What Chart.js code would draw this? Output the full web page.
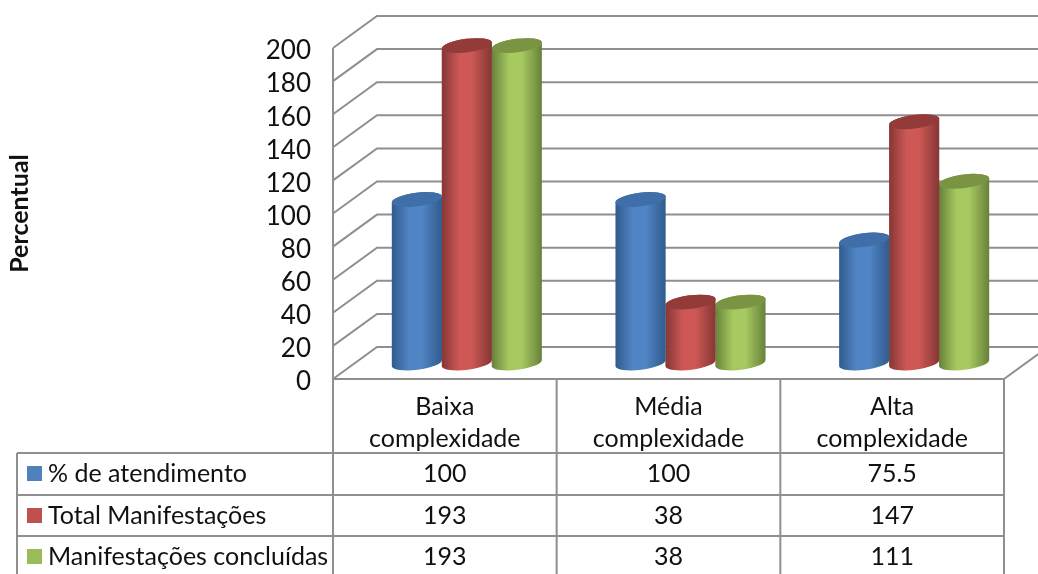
<!DOCTYPE html>
<html>
<head>
<meta charset="utf-8">
<title>Manifestações por complexidade</title>
<script src="https://cdn.jsdelivr.net/npm/chart.js@4/dist/chart.umd.min.js"></script>
<style>
    html, body { margin: 0; padding: 0; background: #fff; overflow: hidden; }
    canvas { display: block; }
</style>
</head>
<body>
<canvas id="chart" width="1038" height="574"></canvas>
<script>
const categories = [["Baixa", "complexidade"], ["Média", "complexidade"], ["Alta", "complexidade"]];
const seriesNames = ["% de atendimento", "Total Manifestações", "Manifestações concluídas"];
const atendimento = [100, 100, 75.5];
const totalManifestacoes = [193, 38, 147];
const concluidas = [193, 38, 111];
const tableLabels = [["100", "100", "75.5"], ["193", "38", "147"], ["193", "38", "111"]];
const yTicks = [0, 20, 40, 60, 80, 100, 120, 140, 160, 180, 200];

const seriesColors = ["#4F81BD", "#C0504D", "#9BBB59"];
// edge, highlight and top cap shades for the cylinders
const bodyShades = [
    { edge: "#305a8c", mid: "#5085c5", cap: "#3f6ea8" },
    { edge: "#843634", mid: "#cd5855", cap: "#923b39" },
    { edge: "#67803a", mid: "#a6c960", cap: "#7a9444" }
];

const FONT = "Lato, Carlito, sans-serif";
const LINE = "#8f8f8f";
const DEPTH_X = 44;
const DEPTH_Y = 32;
const RY = 6.8;
const TILT = -0.125;
const ROW_TOPS = [453, 495, 536];
const ROW_H = 41;

function cylinder(ctx, bar, shade) {
    const rx = bar.width / 2 + 0.3;
    const cx = bar.x + DEPTH_X / 2;
    const top = bar.y - DEPTH_Y / 2 + 2;
    const bottom = bar.base - DEPTH_Y / 2;

    const grad = ctx.createLinearGradient(cx - rx, 0, cx + rx, 0);
    grad.addColorStop(0, shade.edge);
    grad.addColorStop(0.35, shade.mid);
    grad.addColorStop(0.6, shade.mid);
    grad.addColorStop(1, shade.edge);

    ctx.beginPath();
    ctx.ellipse(cx, bottom, rx, RY, TILT, 0, Math.PI);
    ctx.ellipse(cx, top, rx, RY, TILT, Math.PI, 0);
    ctx.closePath();
    ctx.fillStyle = grad;
    ctx.fill();

    ctx.beginPath();
    ctx.ellipse(cx, top, rx, RY, TILT, 0, Math.PI * 2);
    ctx.fillStyle = shade.cap;
    ctx.fill();
}

const cylinderWalls = {
    id: "cylinderWalls",
    beforeDatasetsDraw(chart) {
        const { ctx, scales: { x, y } } = chart;
        ctx.save();
        ctx.strokeStyle = LINE;
        ctx.lineWidth = 2;
        ctx.beginPath();
        yTicks.forEach(v => {
            const py = y.getPixelForValue(v);
            ctx.moveTo(x.left, py);
            ctx.lineTo(x.left + DEPTH_X, py - DEPTH_Y);
            ctx.lineTo(chart.width, py - DEPTH_Y);
        });
        // floor edge on the right
        ctx.moveTo(x.right, y.bottom);
        ctx.lineTo(x.right + DEPTH_X, y.bottom - DEPTH_Y);
        ctx.stroke();
        ctx.restore();
    },
    beforeDatasetDraw(chart, args) {
        const { ctx } = chart;
        ctx.save();
        args.meta.data.forEach(bar => cylinder(ctx, bar, bodyShades[args.index]));
        ctx.restore();
        return false;
    },
    afterDraw(chart) {
        const { ctx, scales: { x, y } } = chart;
        const cellW = x.width / categories.length;
        ctx.save();
        ctx.strokeStyle = LINE;
        ctx.lineWidth = 2;
        ctx.beginPath();

        // front wall and table rules
        ctx.moveTo(x.left, y.top);
        ctx.lineTo(x.left, chart.height);
        for (let i = 1; i <= categories.length; i++) {
            ctx.moveTo(x.left + cellW * i, y.bottom);
            ctx.lineTo(x.left + cellW * i, chart.height);
        }
        ctx.moveTo(x.left, y.bottom);
        ctx.lineTo(x.right, y.bottom);
        ROW_TOPS.forEach(t => {
            ctx.moveTo(17, t);
            ctx.lineTo(x.right, t);
        });
        ctx.moveTo(17, ROW_TOPS[0]);
        ctx.lineTo(17, chart.height);
        ctx.stroke();

        ctx.font = "25px " + FONT;
        ctx.textBaseline = "middle";
        ROW_TOPS.forEach((t, r) => {
            const mid = t + ROW_H / 2;
            ctx.fillStyle = seriesColors[r];
            ctx.fillRect(27, mid - 7.5, 15, 15);
            ctx.fillStyle = "#111";
            ctx.textAlign = "left";
            ctx.fillText(seriesNames[r], 48, mid);
            ctx.textAlign = "center";
            tableLabels[r].forEach((label, c) => {
                ctx.fillText(label, x.getPixelForValue(c), mid);
            });
        });
        ctx.restore();
    }
};

new Chart(document.getElementById("chart"), {
    type: "bar",
    data: {
        labels: categories,
        datasets: [
            { label: seriesNames[0], data: atendimento, backgroundColor: seriesColors[0] },
            { label: seriesNames[1], data: totalManifestacoes, backgroundColor: seriesColors[1] },
            { label: seriesNames[2], data: concluidas, backgroundColor: seriesColors[2] }
        ]
    },
    options: {
        responsive: false,
        animation: false,
        categoryPercentage: 0.67,
        barPercentage: 1,
        layout: { padding: { top: 48, right: 34, left: 0, bottom: 0 } },
        plugins: {
            legend: { display: false },
            tooltip: { enabled: false }
        },
        scales: {
            x: {
                grid: { display: false, drawTicks: false },
                border: { display: false },
                afterFit: scale => { scale.height = 195; },
                ticks: {
                    autoSkip: false,
                    maxRotation: 0,
                    padding: 12,
                    color: "#111",
                    font: { family: FONT, size: 25, lineHeight: 1.28 }
                }
            },
            y: {
                min: 0,
                max: 200,
                grid: { display: false, drawTicks: false },
                border: { display: false },
                afterBuildTicks: scale => { scale.ticks = yTicks.map(v => ({ value: v })); },
                afterFit: scale => { scale.width = 333; },
                title: {
                    display: true,
                    text: "Percentual",
                    color: "#111",
                    padding: { top: 5, bottom: 0 },
                    font: { family: FONT, size: 25, weight: "bold" }
                },
                ticks: {
                    autoSkip: false,
                    padding: 22,
                    labelOffset: 3,
                    color: "#111",
                    font: { family: FONT, size: 26 }
                }
            }
        }
    },
    plugins: [cylinderWalls]
});
</script>
</body>
</html>
